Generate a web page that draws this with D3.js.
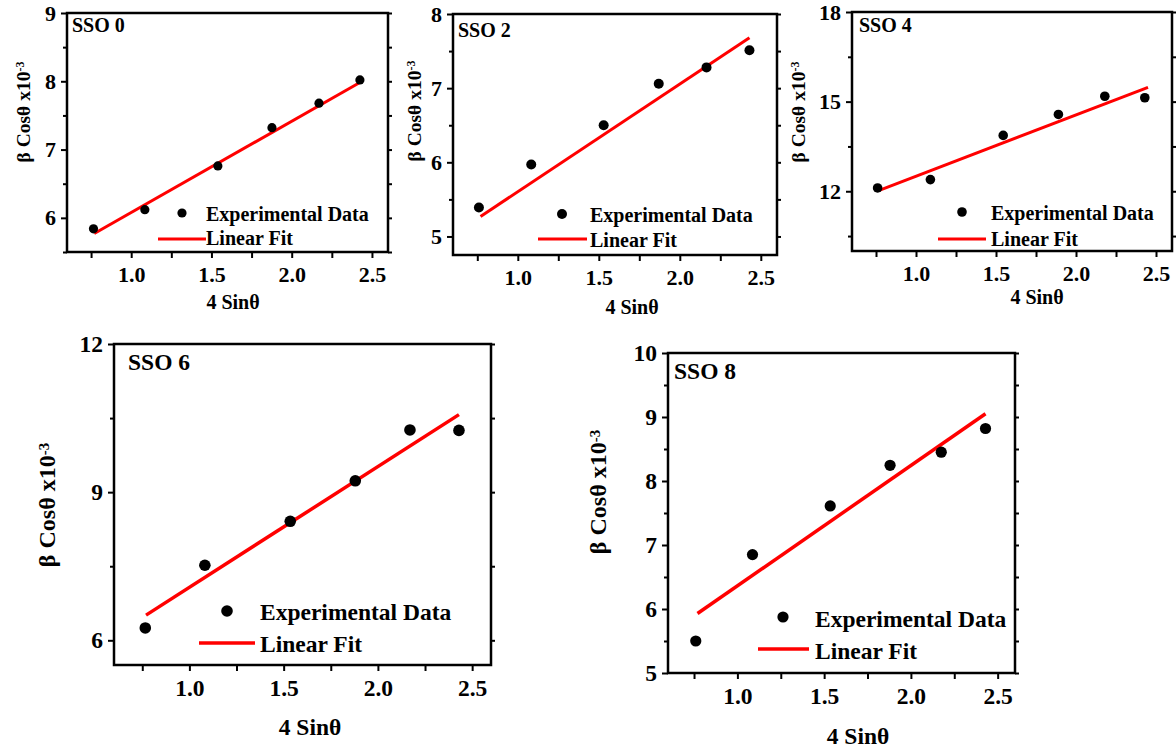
<!DOCTYPE html>
<html>
<head>
<meta charset="utf-8">
<script src="https://cdn.jsdelivr.net/npm/d3@7"></script>
<style>
body { margin: 0; background: #fff; }
text { font-family: "Liberation Serif", "Times New Roman", serif; font-weight: bold; fill: #000; }
</style>
</head>
<body>
<svg id="chart" width="1176" height="746"></svg>
<script>
// data
const panelNames = ["SSO 0", "SSO 2", "SSO 4", "SSO 6", "SSO 8"];

const xSSO0 = [0.765, 1.085, 1.54, 1.877, 2.17, 2.425];
const ySSO0 = [5.84, 6.12, 6.76, 7.32, 7.68, 8.02];
const xSSO2 = [0.76, 1.083, 1.53, 1.87, 2.165, 2.43];
const ySSO2 = [5.39, 5.97, 6.50, 7.06, 7.28, 7.51];
const xSSO4 = [0.76, 1.09, 1.545, 1.89, 2.18, 2.43];
const ySSO4 = [12.11, 12.39, 13.87, 14.57, 15.18, 15.13];
const xSSO6 = [0.766, 1.082, 1.535, 1.88, 2.17, 2.43];
const ySSO6 = [6.25, 7.52, 8.41, 9.23, 10.26, 10.25];
const xSSO8 = [0.76, 1.087, 1.535, 1.88, 2.175, 2.43];
const ySSO8 = [5.50, 6.85, 7.61, 8.245, 8.45, 8.82];

// linear fit end points [x, y]
const fitSSO0 = [[0.77, 5.77], [2.43, 7.99]];
const fitSSO2 = [[0.77, 5.27], [2.43, 7.68]];
const fitSSO4 = [[0.77, 12.03], [2.45, 15.48]];
const fitSSO6 = [[0.77, 6.51], [2.43, 10.57]];
const fitSSO8 = [[0.77, 5.93], [2.43, 9.05]];

const xDomain = [0.6, 2.6];
const xTicksMajor = [1.0, 1.5, 2.0, 2.5];
const xTicksMinor = [0.75, 1.25, 1.75, 2.25];

const yDomains = [[5.5, 9], [4.75, 8], [10, 18], [5.5, 12], [5, 10]];
const yTicksMajor = [[6, 7, 8, 9], [5, 6, 7, 8], [12, 15, 18], [6, 9, 12], [5, 6, 7, 8, 9, 10]];
const yTicksMinor = [[5.5, 6.5, 7.5, 8.5], [5.5, 6.5, 7.5], [10.5, 13.5, 16.5], [7.5, 10.5], [5.5, 6.5, 7.5, 8.5, 9.5]];

const legendLabels = ["Experimental Data", "Linear Fit"];

const xs = [xSSO0, xSSO2, xSSO4, xSSO6, xSSO8];
const ys = [ySSO0, ySSO2, ySSO4, ySSO6, ySSO8];
const fits = [fitSSO0, fitSSO2, fitSSO4, fitSSO6, fitSSO8];

const FONT = '"Liberation Serif", "Times New Roman", serif';

// panel placement on the page
const layout = [
    {l: 67, t: 13, r: 388, b: 252, tick: 22, font: 20, lab: 19.5, xlab: 20, rDot: 4.6, fitW: 3,
     title: [72, 32], ylab: [23, 112], xl: [233, 309],
     leg: {dot: [182, 213], tx: 206, t1: 221, line: [158, 206, 239], t2: 245}},
    {l: 453, t: 14, r: 777, b: 255, tick: 22, font: 20, lab: 19.5, xlab: 20, rDot: 5, fitW: 3,
     title: [458, 37], ylab: [414, 111], xl: [632, 314],
     leg: {dot: [562, 214], tx: 590, t1: 222, line: [538, 587, 239], t2: 247}},
    {l: 852, t: 12, r: 1172, b: 251, tick: 22, font: 20, lab: 19.5, xlab: 20, rDot: 4.8, fitW: 3,
     title: [859, 32], ylab: [798, 112], xl: [1037, 304],
     leg: {dot: [962, 212], tx: 991, t1: 220, line: [938, 986, 239], t2: 246}},
    {l: 114, t: 344, r: 491, b: 665, tick: 23.5, font: 23.5, lab: 24, xlab: 23.5, rDot: 5.8, fitW: 3.5,
     title: [128, 370], ylab: [47, 505], xl: [310, 735],
     leg: {dot: [227, 611], tx: 260, t1: 620, line: [199, 255, 643], t2: 652}},
    {l: 668, t: 353, r: 1015, b: 673, tick: 23.5, font: 23.5, lab: 24, xlab: 23.5, rDot: 5.6, fitW: 3.5,
     title: [674, 379], ylab: [598, 492], xl: [858, 744],
     leg: {dot: [783, 617], tx: 815, t1: 627, line: [758, 809, 649], t2: 659}}
];

const svg = d3.select('#chart');

function styleAxis(a, size) {
    a.attr('font-family', null).attr('font-size', null);
    a.select('.domain').remove();
    a.selectAll('line').attr('stroke-width', 2);
    a.selectAll('text')
        .style('font-family', FONT)
        .style('font-weight', 'bold')
        .style('font-size', size + 'px');
}

panelNames.forEach((name, i) => {
    const L = layout[i];
    const g = svg.append('g');

    const x = d3.scaleLinear().domain(xDomain).range([L.l, L.r]);
    const y = d3.scaleLinear().domain(yDomains[i]).range([L.b, L.t]);

    // bottom axis: major with labels, minor without
    g.append('g')
        .attr('transform', `translate(0,${L.b})`)
        .call(d3.axisBottom(x).tickValues(xTicksMajor).tickSize(6).tickPadding(8).tickFormat(d3.format('.1f')))
        .call(a => styleAxis(a, L.tick));
    g.append('g')
        .attr('transform', `translate(0,${L.b})`)
        .call(d3.axisBottom(x).tickValues(xTicksMinor).tickSize(6).tickFormat(''))
        .call(a => styleAxis(a, L.tick));

    // left axis
    g.append('g')
        .attr('transform', `translate(${L.l},0)`)
        .call(d3.axisLeft(y).tickValues(yTicksMajor[i]).tickSize(6).tickPadding(5).tickFormat(d3.format('d')))
        .call(a => styleAxis(a, L.tick));
    g.append('g')
        .attr('transform', `translate(${L.l},0)`)
        .call(d3.axisLeft(y).tickValues(yTicksMinor[i]).tickSize(4).tickFormat(''))
        .call(a => styleAxis(a, L.tick));

    // right axis mirrors ticks
    g.append('g')
        .attr('transform', `translate(${L.r},0)`)
        .call(d3.axisRight(y).tickValues(yTicksMajor[i].concat(yTicksMinor[i])).tickSize(4).tickFormat(''))
        .call(a => styleAxis(a, L.tick));

    // frame
    g.append('rect')
        .attr('x', L.l).attr('y', L.t)
        .attr('width', L.r - L.l).attr('height', L.b - L.t)
        .attr('fill', 'none').attr('stroke', '#000').attr('stroke-width', 2.5);

    // fit line
    g.append('path')
        .datum(fits[i])
        .attr('d', d3.line().x(d => x(d[0])).y(d => y(d[1])))
        .attr('stroke', '#ff0000').attr('stroke-width', L.fitW).attr('fill', 'none');

    // data points
    g.selectAll('circle.pt')
        .data(d3.zip(xs[i], ys[i]))
        .enter().append('circle')
        .attr('class', 'pt')
        .attr('cx', d => x(d[0])).attr('cy', d => y(d[1]))
        .attr('r', L.rDot).attr('fill', '#000');

    // title
    g.append('text')
        .attr('x', L.title[0]).attr('y', L.title[1])
        .style('font-size', L.font + 'px')
        .text(name);

    // legend
    g.append('circle')
        .attr('cx', L.leg.dot[0]).attr('cy', L.leg.dot[1]).attr('r', L.rDot).attr('fill', '#000');
    g.append('text')
        .attr('x', L.leg.tx).attr('y', L.leg.t1)
        .style('font-size', L.font + 'px')
        .text(legendLabels[0]);
    g.append('line')
        .attr('x1', L.leg.line[0]).attr('x2', L.leg.line[1])
        .attr('y1', L.leg.line[2]).attr('y2', L.leg.line[2])
        .attr('stroke', '#ff0000').attr('stroke-width', L.fitW);
    g.append('text')
        .attr('x', L.leg.tx).attr('y', L.leg.t2)
        .style('font-size', L.font + 'px')
        .text(legendLabels[1]);

    // axis labels
    g.append('text')
        .attr('x', L.xl[0]).attr('y', L.xl[1])
        .attr('text-anchor', 'middle')
        .style('font-size', L.xlab + 'px')
        .text('4 Sinθ');

    const yl = g.append('text')
        .attr('transform', `translate(${L.ylab[0]},${L.ylab[1]}) rotate(-90)`)
        .attr('text-anchor', 'middle')
        .attr('dy', '0.35em')
        .style('font-size', L.lab + 'px');
    yl.append('tspan').text('β Cosθ x10');
    yl.append('tspan').attr('dy', '-0.45em').style('font-size', (L.lab * 0.62) + 'px').text('-3');
});
</script>
</body>
</html>
